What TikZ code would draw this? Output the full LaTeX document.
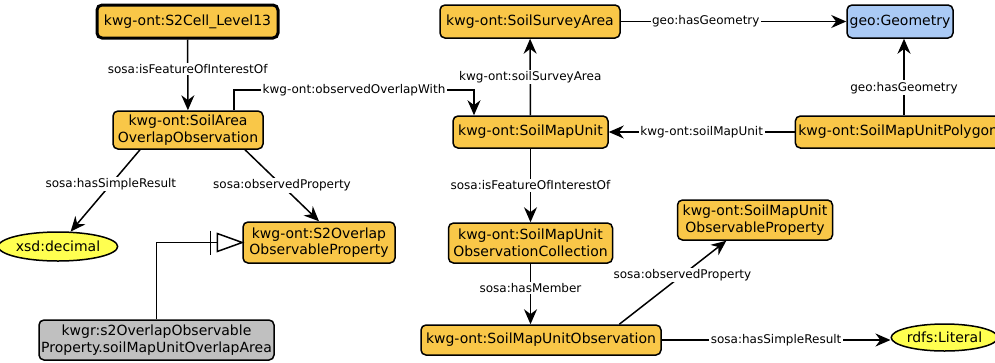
\documentclass[tikz,border=0pt]{standalone}
\usepackage{fontspec}
\setmainfont{DejaVu Sans}
\usetikzlibrary{arrows.meta,calc,shapes.geometric}
\definecolor{clsfill}{RGB}{249,199,72}
\definecolor{geofill}{RGB}{170,202,245}
\definecolor{litfill}{RGB}{255,255,80}
\definecolor{indfill}{RGB}{192,192,192}
\begin{document}
\begin{tikzpicture}[x=1pt,y=-1pt,
  box/.style={draw, line width=1.5pt, rounded corners=5pt, fill=clsfill,
    align=center, inner sep=2pt, font=\fontsize{14}{16.5}\selectfont},
  litbox/.style={ellipse, draw, line width=1.5pt, fill=litfill, inner sep=0pt,
    font=\fontsize{14}{16.5}\selectfont},
  lbl/.style={fill=white, inner sep=1.5pt, font=\fontsize{12}{14}\selectfont},
  edge/.style={line width=1.5pt},
  arr/.style={edge, -{Stealth[length=15pt,width=13pt]}}]
\useasboundingbox (0,0) rectangle (995,362);
\clip (0,0) rectangle (995,362);

% observation of the overlap between an S2 cell and a soil area
\node[box, line width=3pt, minimum width=181pt, minimum height=33pt] (s2cell) at (187.5,21.5) {kwg-ont:S2Cell\_Level13};
\node[box, minimum width=150pt, minimum height=38pt] (soilarea) at (188,130) {kwg-ont:SoilArea\\OverlapObservation};
\node[litbox, minimum width=100pt, minimum height=29pt] (xsd) at (58,246.5) {xsd:decimal};
\node[box, minimum width=152pt, minimum height=41pt] (s2op) at (319,242.5) {kwg-ont:S2Overlap\\ObservableProperty};
\node[box, fill=indfill, minimum width=235pt, minimum height=40pt] (kwgr) at (156.5,340) {kwgr:s2OverlapObservable\\Property.soilMapUnitOverlapArea};

% soil map units, survey areas and their observations
\node[box, minimum width=180pt, minimum height=33pt] (ssa) at (530,21.5) {kwg-ont:SoilSurveyArea};
\node[box, fill=geofill, minimum width=106pt, minimum height=33pt] (geom) at (900,21.5) {geo:Geometry};
\node[box, minimum width=155pt, minimum height=32pt] (smu) at (530.5,132) {kwg-ont:SoilMapUnit};
\node[box, anchor=west, minimum height=32pt, inner xsep=3pt] (poly) at (794.6,132) {kwg-ont:SoilMapUnitPolygon};
\node[box, minimum width=164pt, minimum height=40pt] (coll) at (530.5,243) {kwg-ont:SoilMapUnit\\ObservationCollection};
\node[box, minimum width=155pt, minimum height=40pt] (obsprop) at (755,220) {kwg-ont:SoilMapUnit\\ObservableProperty};
\node[box, minimum width=240pt, minimum height=30pt] (obs) at (541,340) {kwg-ont:SoilMapUnitObservation};
\node[litbox, minimum width=95pt, minimum height=27pt] (lit) at (944.5,337.5) {rdfs:Literal};

% bend points and offsets
\coordinate (ow1) at (234,90);
\coordinate (ow2) at (474,90);
\coordinate (hsr) at (140,0);
\coordinate (opx) at (245,0);
\coordinate (pg) at (904,0);
\coordinate (mop) at (619.3,0);
\coordinate (top) at (726.3,0);

% left group
\draw[arr] (s2cell) -- node[lbl, pos=0.42] {sosa:isFeatureOfInterestOf} (soilarea);
\draw[arr] (soilarea.north -| ow1) -- (ow1) -- node[lbl] {kwg-ont:observedOverlapWith} (ow2) -- (ow2 |- smu.north);
\draw[arr] (soilarea.south -| hsr) -- node[lbl, pos=0.42] {sosa:hasSimpleResult} (xsd);
\draw[arr] (soilarea.south -| opx) -- node[lbl, pos=0.5] {sosa:observedProperty} (s2op.north);

% instance-of link with open triangle and bar
\draw[edge] (kwgr.north) |- (s2op.west);
\draw[edge, fill=white] (s2op.west) -- ++(-25,-9) -- ++(0,18) -- cycle;
\draw[edge] ($(s2op.west)+(-32,-12)$) -- ++(0,24);

% right group
\draw[arr] (ssa) -- node[lbl, pos=0.377] {geo:hasGeometry} (geom);
\draw[arr] (smu) -- node[lbl] {kwg-ont:soilSurveyArea} (ssa);
\draw[arr] (poly.north -| pg) -- node[lbl, pos=0.36] {geo:hasGeometry} (geom.south -| pg);
\draw[arr] (poly.west) -- node[lbl] {kwg-ont:soilMapUnit} (smu.east);
\draw[arr] (smu) -- node[lbl] {sosa:isFeatureOfInterestOf} (coll);
\draw[arr] (coll.south) -- node[lbl, pos=0.4] {sosa:hasMember} (coll.south |- obs.north);
\draw[arr] (obs.north -| mop) -- node[lbl, pos=0.59] {sosa:observedProperty} (obsprop.south -| top);
\draw[arr] (obs.east) -- node[lbl] {sosa:hasSimpleResult} (obs.east -| lit.west);
\end{tikzpicture}
\end{document}
